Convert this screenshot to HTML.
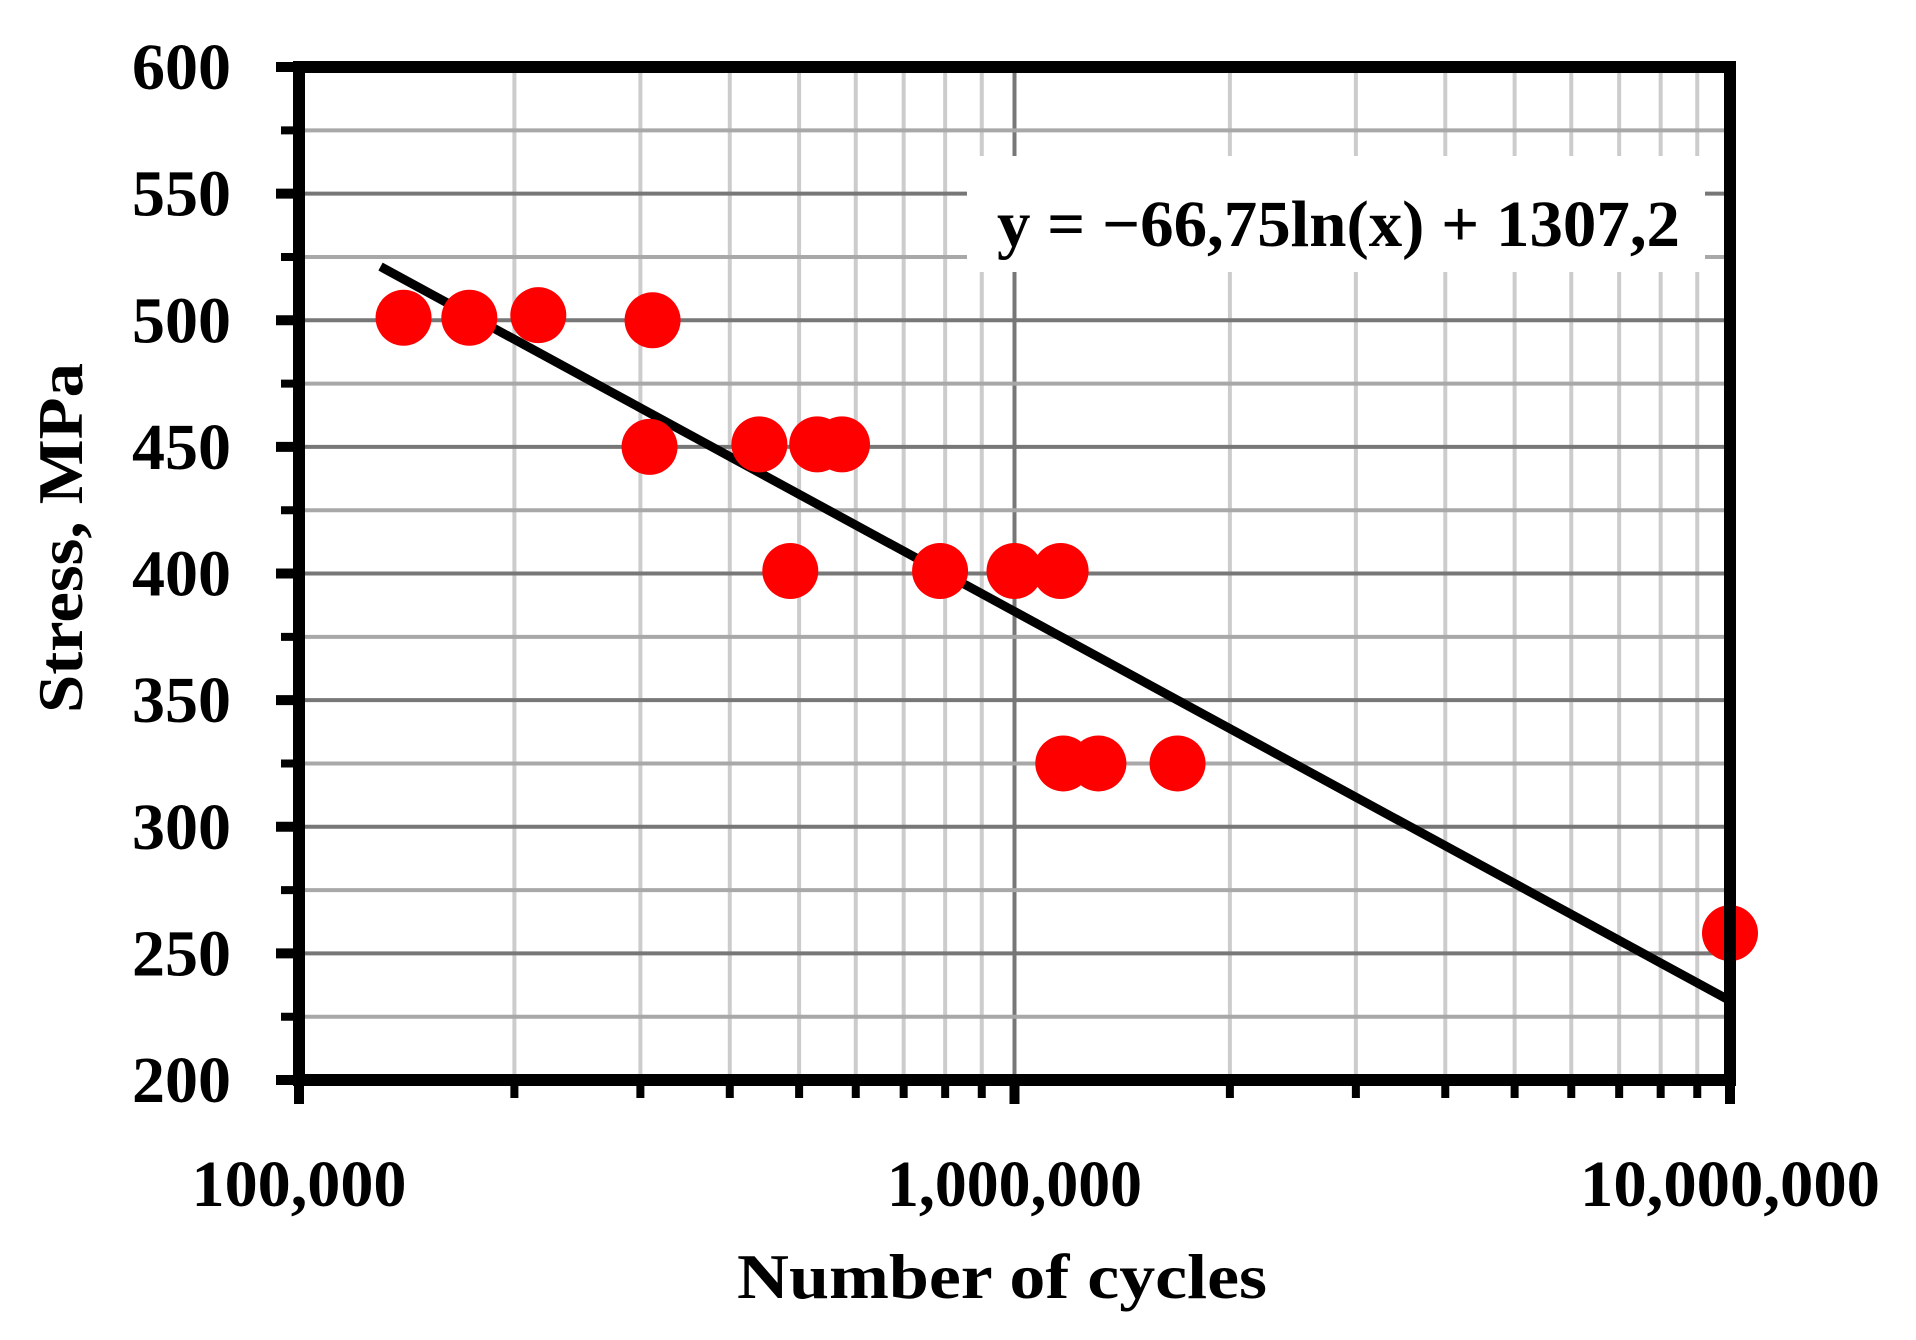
<!DOCTYPE html>
<html><head><meta charset="utf-8"><style>
html,body{margin:0;padding:0;background:#fff;}
svg{display:block;}
text{font-family:"Liberation Serif",serif;font-weight:bold;fill:#000;}
</style></head><body>
<svg id="chart" width="1916" height="1340" viewBox="0 0 1916 1340" xmlns="http://www.w3.org/2000/svg">
<g id="grid"></g>
<g id="eqbox">
<rect x="967" y="156" width="738" height="116" fill="#fff"/>
<text x="997" y="246" font-size="66" textLength="683" lengthAdjust="spacingAndGlyphs">y = −66,75ln(x) + 1307,2</text>
</g>
<g id="trend"></g>
<g id="points"></g>
<g id="axes"></g>
<g id="labels"></g>
<text x="1002" y="1298" font-size="64" text-anchor="middle" textLength="530" lengthAdjust="spacingAndGlyphs">Number of cycles</text>
<text transform="translate(82,538) rotate(-90)" x="0" y="0" font-size="64" text-anchor="middle" textLength="350" lengthAdjust="spacingAndGlyphs">Stress, MPa</text>
</svg>
<script>
const cycles=[1.40e5,1.73e5,2.16e5,3.12e5,3.09e5,4.4e5,4.86e5,5.3e5,5.74e5,7.87e5,1.0e6,1.16e6,1.17e6,1.31e6,1.69e6,1.0e7];
const stress=[501,501,502,500,450,451,401,451,451,401,401,401,325,325,325,258];
const yTicks=[200,250,300,350,400,450,500,550,600];
const xTickLabels=["100,000","1,000,000","10,000,000"];
const xTickValues=[1e5,1e6,1e7];
const trendA=-66.75, trendB=1307.2, trendStart=1.3e5, trendEnd=1e7;

const L=299,R=1730,T=67,B=1080;
const NS="http://www.w3.org/2000/svg";
function xs(v){return L+(Math.log10(v)-5)/2*(R-L);}
function ys(v){return B-(v-200)/400*(B-T);}
function mk(tag,attrs,parent){const e=document.createElementNS(NS,tag);for(const k in attrs)e.setAttribute(k,attrs[k]);parent.appendChild(e);return e;}
const grid=document.getElementById('grid');
for(let d=5;d<7;d++){for(let m=2;m<=9;m++){const x=xs(m*Math.pow(10,d));
 const l=mk('line',{x1:x,x2:x,y1:T,y2:B,stroke:'#cccccc','stroke-width':4},grid);
 
 }}
{const x=xs(1e6);const l=mk('line',{x1:x,x2:x,y1:T,y2:B,stroke:'#777','stroke-width':4},grid);
 
 }
for(let v=225;v<600;v+=25){const y=ys(v);const major=(v%50===0);
 const l=mk('line',{x1:L,x2:R,y1:y,y2:y,stroke:major?'#777':'#a8a8a8','stroke-width':4},grid);
 
 }
const trend=document.getElementById('trend');
{const tl=mk('line',{x1:xs(trendStart),y1:ys(trendA*Math.log(trendStart)+trendB),x2:xs(trendEnd),y2:ys(trendA*Math.log(trendEnd)+trendB),stroke:'#000','stroke-width':9},trend);
 
 }
const pts=document.getElementById('points');
for(let i=0;i<cycles.length;i++){const c=mk('circle',{cx:xs(cycles[i]),cy:ys(stress[i]),r:28,fill:'#ff0000'},pts);
 
 }
const ax=document.getElementById('axes');
{const r=mk('rect',{x:L,y:T,width:R-L,height:B-T,fill:'none',stroke:'#000','stroke-width':12},ax);
 
 }
for(let v=200;v<=600;v+=25){const y=ys(v);const major=(v%50===0);
 const l=mk('line',{x1:major?276:281,x2:L,y1:y,y2:y,stroke:'#000','stroke-width':major?10:8},ax);
 
 }
for(let d=5;d<7;d++){for(let m=1;m<=10;m++){const x=xs(m*Math.pow(10,d));const major=(m===1||m===10);
 const l=mk('line',{x1:x,x2:x,y1:B,y2:major?1104:1098,stroke:'#000','stroke-width':major?10:8},ax);
 
 }}
const lab=document.getElementById('labels');
for(const v of yTicks){const t=mk('text',{x:231,y:ys(v)+22,'font-size':66,'text-anchor':'end'},lab);
 
 
 t.textContent=String(v);}
const xLabelWidths=[215,255,300];
for(let i=0;i<xTickValues.length;i++){const t=mk('text',{x:xs(xTickValues[i]),y:1206,'font-size':66,'text-anchor':'middle',textLength:xLabelWidths[i],lengthAdjust:'spacingAndGlyphs'},lab);
 
 
 t.textContent=xTickLabels[i];}
</script>
</body></html>
